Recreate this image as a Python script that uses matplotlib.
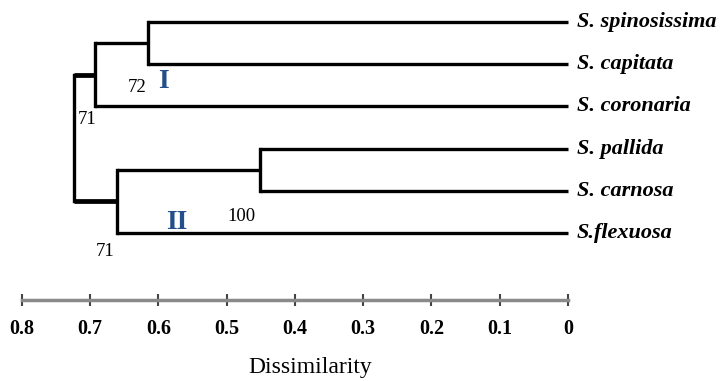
import numpy as np
from matplotlib import pyplot as plt

plt.rcParams["font.family"] = ["Liberation Serif", "DejaVu Serif"]

# Leaves, top to bottom
leaves = ["S. spinosissima", "S. capitata", "S. coronaria", "S. pallida", "S. carnosa", "S.flexuosa"]
# Merges as (child a, child b, dissimilarity); new nodes get ids 6, 7, ...
merges = [(0, 1, 0.615), (6, 2, 0.693), (3, 4, 0.451), (8, 5, 0.661), (7, 9, 0.724)]
# Bootstrap support shown next to the merges above (None = not shown)
support = ["72", "71", "100", "71", None]
# Cluster labels and the merge they belong to
clusters = ["I", "II"]
cluster_merge = [0, 3]

ticks = [0.8, 0.7, 0.6, 0.5, 0.4, 0.3, 0.2, 0.1, 0]
ticklabels = ["0.8", "0.7", "0.6", "0.5", "0.4", "0.3", "0.2", "0.1", "0"]

# label offsets from the merge (dissimilarity, leaf rows below the lower child)
support_off = [(0.0165, 0.56), (0.012, 0.32), (0.028, 0.62), (0.017, 0.45), None]
cluster_off = [(-0.023, 0.42), (-0.088, -0.24)]

fig = plt.figure(figsize=(7.23, 3.81), dpi=100)
ax = fig.add_axes([0, 0, 1, 1])
ax.set_xlim(0.832, -0.227)
ax.set_ylim(8.507, -0.521)
ax.axis("off")

# Positions of every node: (height, y)
pos = {i: (0.0, float(i)) for i in range(len(leaves))}
lw = 2.4
for k, (a, b, h) in enumerate(merges):
    ha, ya = pos[a]
    hb, yb = pos[b]
    ax.plot([ha, h], [ya, ya], color="black", lw=lw, solid_capstyle="butt")
    ax.plot([hb, h], [yb, yb], color="black", lw=lw, solid_capstyle="butt")
    ax.plot([h, h], [ya, yb], color="black", lw=lw, solid_capstyle="projecting")
    pos[len(leaves) + k] = (h, (ya + yb) / 2)

# Root join is drawn heavier in the original
root_h, root_y = pos[len(leaves) + len(merges) - 1]
for child in merges[-1][:2]:
    ax.plot([pos[child][0], root_h], [pos[child][1]] * 2, color="black", lw=3.4, solid_capstyle="butt")

for i, name in enumerate(leaves):
    ax.text(-0.013, i, name, fontsize=16, fontweight="bold", fontstyle="italic", va="center", ha="left")

# Support values, placed below-left of each merge's lower child
for k, s in enumerate(support):
    if s is None:
        continue
    a, b, h = merges[k]
    ylow = max(pos[a][1], pos[b][1])
    dx, dy = support_off[k]
    ax.text(h + dx, ylow + dy, s, fontsize=13.5, ha="center", va="center")

for j, (lab, k) in enumerate(zip(clusters, cluster_merge)):
    a, b, h = merges[k]
    ylow = max(pos[a][1], pos[b][1])
    dx, dy = cluster_off[j]
    ax.text(h + dx, ylow + dy, lab, fontsize=20, fontweight="bold", color="#23508a", ha="center", va="center")

# Scale bar
sax = fig.add_axes([0, 1 - 300 / 381, 1, 0.0001])
sax.set_xlim(0.832, -0.227)
sax.set_yticks([])
for sp in ["top", "left", "right"]:
    sax.spines[sp].set_visible(False)
sax.spines["bottom"].set_bounds(0, 0.8)
sax.spines["bottom"].set_color("#8a8a8a")
sax.spines["bottom"].set_linewidth(2.5)
sax.set_xticks(ticks)
sax.set_xticklabels(ticklabels, fontsize=14.5, fontweight="bold")
sax.tick_params(axis="x", direction="inout", length=8, width=1.5, color="#444444", pad=10)
sax.set_xlabel("Dissimilarity", fontsize=17, labelpad=13)
sax.xaxis.label.set_x(0.429)

fig.savefig("out.png", dpi=100)
